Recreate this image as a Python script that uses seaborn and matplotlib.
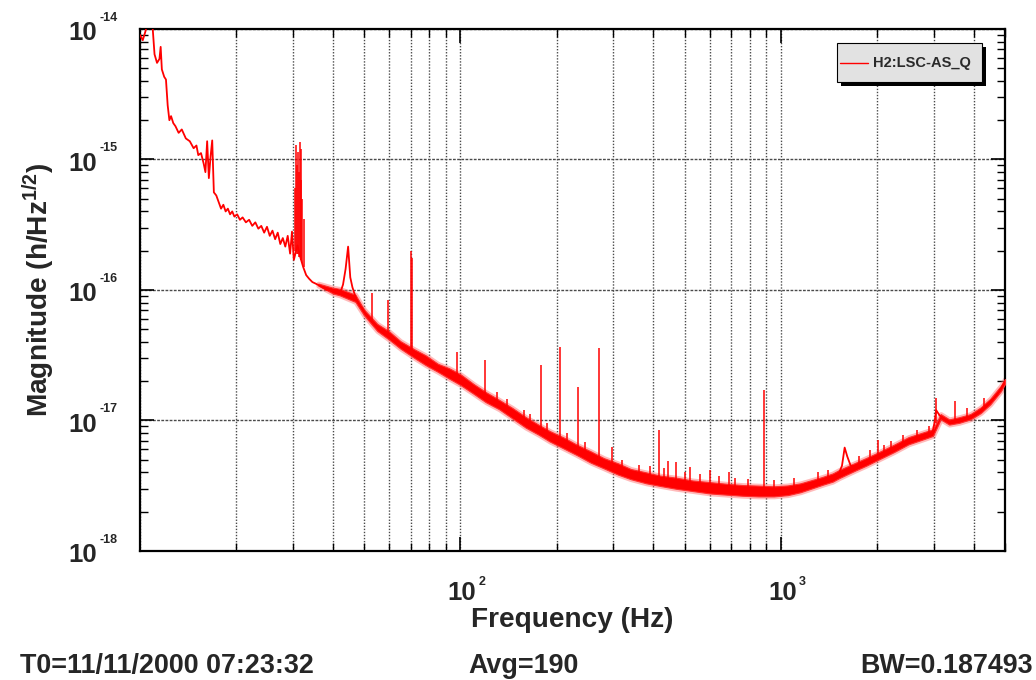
import matplotlib
matplotlib.use("Agg")
import matplotlib.pyplot as plt
from matplotlib.ticker import LogLocator, NullFormatter
from matplotlib.patches import Rectangle
from matplotlib.lines import Line2D
import seaborn as sns


# DATA

trace_freq = [
    10.0, 10.2, 10.4, 10.6, 10.9, 11.1, 11.3, 11.5, 11.6, 11.7,
    11.9, 12.05, 12.2, 12.35, 12.5, 12.7, 12.9, 13.2, 13.5, 13.9,
    14.3, 14.7, 15.0, 15.2, 15.5, 15.8, 16.0, 16.2, 16.4, 16.6,
    16.8, 17.0, 17.3, 17.6, 17.9, 18.2, 18.5, 18.8, 19.1, 19.4,
    19.7, 20.1, 20.5, 20.9, 21.4, 21.9, 22.4, 22.9, 23.4, 23.9,
    24.4, 24.9, 25.4, 25.9, 26.4, 26.9, 27.4, 27.9, 28.4, 28.9,
    29.4, 29.8, 30.2, 31.0, 31.6, 32.3, 33.0, 33.7, 34.5, 35.3,
    36.3, 37.3, 38.3, 39.3, 40.3, 41.3, 42.2, 43.0, 43.8, 44.6,
    45.3, 46.0, 46.8, 47.6, 48.5, 49.5, 50.5, 51.5, 52.5, 53.5,
    54.8, 56.0, 57.5, 59.0, 60.5, 62.5, 64.5, 67.0, 69.5, 72.0,
    75.0, 78.5, 82.0, 86.0, 90.0, 95.0, 100, 106, 113, 122,
    133, 143, 153, 165, 178, 190, 204, 220, 236, 253,
    272, 295, 320, 345, 375, 420, 470, 520, 580, 650,
    745, 850, 990, 1080, 1150, 1250, 1330, 1430, 1510, 1550,
    1580, 1610, 1650, 1700, 1800, 1900, 1980, 2150, 2350, 2530,
    2750, 2970, 3010, 3050, 3120, 3250, 3370, 3550, 3700, 3890,
    4050, 4200, 4350, 4500, 4700, 4850, 5000,
]

trace_mag = [
    9.0e-15, 8.2e-15, 9.6e-15, 1.2e-14, 1.2e-14, 6.4e-15, 5.5e-15, 5.9e-15, 7.3e-15, 4.9e-15,
    4.3e-15, 4.1e-15, 2.6e-15, 2.0e-15, 2.15e-15, 1.9e-15, 1.8e-15, 1.6e-15, 1.7e-15, 1.45e-15,
    1.38e-15, 1.22e-15, 1.28e-15, 1.08e-15, 1.12e-15, 9.3e-16, 8.0e-16, 1.38e-15, 7.2e-16, 1.05e-15,
    1.4e-15, 5.6e-16, 5.3e-16, 4.7e-16, 4.2e-16, 4.5e-16, 4.0e-16, 4.2e-16, 3.8e-16, 4.0e-16,
    3.65e-16, 3.8e-16, 3.45e-16, 3.6e-16, 3.3e-16, 3.45e-16, 3.1e-16, 3.3e-16, 2.95e-16, 3.1e-16,
    2.75e-16, 3.05e-16, 2.6e-16, 2.85e-16, 2.45e-16, 2.75e-16, 2.25e-16, 2.5e-16, 2.15e-16, 2.6e-16,
    1.9e-16, 2.8e-16, 1.7e-16, 2.2e-16, 1.8e-16, 1.5e-16, 1.3e-16, 1.22e-16, 1.15e-16, 1.12e-16,
    1.08e-16, 1.04e-16, 1.0e-16, 1.02e-16, 9.8e-17, 1.0e-16, 9.6e-17, 1.1e-16, 1.45e-16, 2.15e-16,
    1.25e-16, 1.05e-16, 9.2e-17, 8.2e-17, 7.6e-17, 7.2e-17, 6.6e-17, 6.2e-17, 6.0e-17, 5.6e-17,
    5.3e-17, 5.0e-17, 4.8e-17, 4.55e-17, 4.4e-17, 4.1e-17, 3.85e-17, 3.6e-17, 3.4e-17, 3.25e-17,
    3.05e-17, 2.85e-17, 2.7e-17, 2.5e-17, 2.35e-17, 2.2e-17, 2.05e-17, 1.85e-17, 1.65e-17, 1.48e-17,
    1.32e-17, 1.17e-17, 1.03e-17, 9.2e-18, 8.3e-18, 7.6e-18, 7.0e-18, 6.3e-18, 5.8e-18, 5.3e-18,
    4.85e-18, 4.45e-18, 4.1e-18, 3.85e-18, 3.65e-18, 3.45e-18, 3.3e-18, 3.15e-18, 3.05e-18, 2.98e-18,
    2.92e-18, 2.88e-18, 2.88e-18, 2.95e-18, 3.05e-18, 3.25e-18, 3.4e-18, 3.6e-18, 3.85e-18, 4.5e-18,
    6.2e-18, 5.3e-18, 4.5e-18, 4.4e-18, 4.7e-18, 5.0e-18, 5.25e-18, 5.8e-18, 6.5e-18, 7.1e-18,
    7.6e-18, 8.1e-18, 9.5e-18, 1.2e-17, 1.1e-17, 1.0e-17, 9.7e-18, 1.0e-17, 1.03e-17, 1.07e-17,
    1.12e-17, 1.2e-17, 1.3e-17, 1.4e-17, 1.55e-17, 1.75e-17, 2.0e-17,
]

# spread of the noisy band
band_freq = [
    36, 40, 42, 47, 50, 55, 60, 65, 72, 78,
    85, 92, 100, 110, 120, 132, 145, 160, 175, 190,
    210, 230, 255, 280, 310, 340, 380, 420, 470, 530,
    600, 680, 760, 850, 950, 1050, 1150, 1250, 1350, 1450,
    1520, 1700, 1850, 2000, 2250, 2500, 2800, 2980, 3150, 3350,
    3600, 3900, 4200, 4500, 4850, 5000,
]
band_lo = [
    1.08e-16, 9.4e-17, 9.1e-17, 8.1e-17, 6.4e-17, 4.85e-17, 4.15e-17, 3.55e-17, 3.0e-17, 2.65e-17,
    2.36e-17, 2.1e-17, 1.87e-17, 1.6e-17, 1.38e-17, 1.22e-17, 1.04e-17, 8.8e-18, 7.8e-18, 6.9e-18,
    6.1e-18, 5.45e-18, 4.75e-18, 4.3e-18, 3.85e-18, 3.55e-18, 3.3e-18, 3.15e-18, 3.0e-18, 2.88e-18,
    2.76e-18, 2.7e-18, 2.65e-18, 2.62e-18, 2.62e-18, 2.68e-18, 2.82e-18, 3.02e-18, 3.22e-18, 3.4e-18,
    3.62e-18, 4.12e-18, 4.52e-18, 4.97e-18, 5.72e-18, 6.57e-18, 7.22e-18, 7.62e-18, 1.02e-17, 9.3e-18,
    9.6e-18, 1.02e-17, 1.14e-17, 1.33e-17, 1.67e-17, 1.9e-17,
]
band_hi = [
    1.12e-16, 1.04e-16, 1.02e-16, 9.2e-17, 7.1e-17, 5.5e-17, 4.8e-17, 4.05e-17, 3.5e-17, 3.15e-17,
    2.72e-17, 2.52e-17, 2.26e-17, 1.9e-17, 1.65e-17, 1.44e-17, 1.25e-17, 1.06e-17, 9.3e-18, 8.3e-18,
    7.4e-18, 6.55e-18, 5.8e-18, 5.15e-18, 4.7e-18, 4.25e-18, 4.0e-18, 3.78e-18, 3.65e-18, 3.47e-18,
    3.37e-18, 3.27e-18, 3.2e-18, 3.17e-18, 3.13e-18, 3.18e-18, 3.3e-18, 3.5e-18, 3.7e-18, 3.93e-18,
    4.18e-18, 4.72e-18, 5.18e-18, 5.66e-18, 6.52e-18, 7.46e-18, 8.16e-18, 8.56e-18, 1.12e-17, 1.02e-17,
    1.06e-17, 1.12e-17, 1.26e-17, 1.47e-17, 1.84e-17, 2.08e-17,
]

# narrow lines
spike_freq = [
    30.5, 30.7, 30.9, 31.1, 31.3, 31.5, 31.7, 31.9, 32.1, 32.4,
    53.1, 59.6, 70.0, 70.6, 97.3, 119, 178, 204, 233, 270,
    296, 417, 445, 470, 520, 600, 690, 883, 2010, 2200, 3040, 3500,
    130, 140, 158, 165, 186, 215, 245, 320, 360, 390,
    430, 500, 560, 640, 720, 790, 950, 1100, 1300, 1400,
    1750, 1900, 2100, 2400, 2650, 2900, 3800, 4300,
]
spike_base = [
    2.0e-16, 2.0e-16, 1.9e-16, 1.9e-16, 1.8e-16, 1.8e-16, 1.7e-16, 1.7e-16, 1.6e-16, 1.5e-16,
    5.8e-17, 4.5e-17, 3.4e-17, 3.4e-17, 2.15e-17, 1.5e-17, 8.3e-18, 7.0e-18, 5.9e-18, 4.9e-18,
    4.45e-18, 3.45e-18, 3.4e-18, 3.3e-18, 3.15e-18, 3.05e-18, 2.95e-18, 2.88e-18, 5.3e-18, 6.0e-18,
    9.5e-18, 1.0e-17,
    1.36e-17, 1.2e-17, 9.9e-18, 9.2e-18, 7.8e-18, 6.5e-18, 5.5e-18, 4.1e-18, 3.75e-18, 3.6e-18,
    3.4e-18, 3.2e-18, 3.1e-18, 3.0e-18, 2.95e-18, 2.9e-18, 2.87e-18, 3.0e-18, 3.35e-18, 3.55e-18,
    4.5e-18, 5.0e-18, 5.6e-18, 6.7e-18, 7.4e-18, 7.9e-18, 1.05e-17, 1.3e-17,
]
spike_top = [
    6.0e-16, 1.3e-15, 9.0e-16, 1.15e-15, 8.0e-16, 1.35e-15, 7.0e-16, 1.2e-15, 5.0e-16, 3.5e-16,
    9.5e-17, 8.4e-17, 2.0e-16, 1.75e-16, 3.35e-17, 2.9e-17, 2.66e-17, 3.66e-17, 1.81e-17, 3.6e-17,
    6.3e-18, 8.5e-18, 4.9e-18, 4.8e-18, 4.4e-18, 4.2e-18, 4.0e-18, 1.71e-17, 7.1e-18, 7.0e-18,
    1.5e-17, 1.4e-17,
    1.65e-17, 1.45e-17, 1.2e-17, 1.12e-17, 9.6e-18, 8.0e-18, 6.9e-18, 5.0e-18, 4.6e-18, 4.5e-18,
    4.3e-18, 4.0e-18, 3.9e-18, 3.75e-18, 3.6e-18, 3.55e-18, 3.5e-18, 3.6e-18, 4.0e-18, 4.2e-18,
    5.3e-18, 5.9e-18, 6.5e-18, 7.8e-18, 8.5e-18, 9.0e-18, 1.25e-17, 1.5e-17,
]

y_decades = [1e-14, 1e-15, 1e-16, 1e-17, 1e-18]
y_exponents = ["-14", "-15", "-16", "-17", "-18"]
x_decades = [100, 1000]
x_exponents = ["2", "3"]

channel = "H2:LSC-AS_Q"
footer_t0 = "T0=11/11/2000 07:23:32"
footer_avg = "Avg=190"
footer_bw = "BW=0.187493"


# STYLE

sns.set_theme(style="ticks")

plt.rcParams["font.family"] = ["Liberation Sans", "DejaVu Sans"]
plt.rcParams["font.weight"] = "bold"
plt.rcParams["mathtext.fontset"] = "custom"
plt.rcParams["mathtext.rm"] = "Liberation Sans:bold"
plt.rcParams["mathtext.it"] = "Liberation Sans:bold"
plt.rcParams["mathtext.bf"] = "Liberation Sans:bold"

RED = "#ff0000"
GRID = "#4a4a4a"
BIG = 18.5
TITLE = 20.2
FOOT = 19.4


def fx(px):
    return px / 1036


def fy(py):
    return 1 - py / 680


fig = plt.figure(figsize=(10.36, 6.8), dpi=100)
fig.patch.set_facecolor("white")

ax = fig.add_axes([0.13514, 0.18971, 0.83494, 0.76765])
ax.set_facecolor("white")

ax.set_xscale("log")
ax.set_yscale("log")


# CURVE

# soft halo around the noise band (jpeg-like fuzz)
ax.fill_between(
    band_freq,
    band_lo,
    band_hi,
    color="#ff6a6a",
    alpha=0.45,
    linewidth=3.5,
    zorder=2
)

ax.fill_between(
    band_freq,
    band_lo,
    band_hi,
    color=RED,
    linewidth=0.8,
    edgecolor="#ff3030",
    zorder=3
)

sns.lineplot(
    x=trace_freq,
    y=trace_mag,
    ax=ax,
    color=RED,
    linewidth=1.3,
    sort=False,
    estimator=None,
    zorder=4
)

ax.vlines(
    spike_freq,
    spike_base,
    spike_top,
    color=RED,
    linewidth=1.1,
    zorder=4
)

ax.set_xlim(10, 5000)
ax.set_ylim(1e-18, 1e-14)


# AXES / GRID

ax.xaxis.set_major_locator(LogLocator(base=10))
ax.xaxis.set_minor_locator(LogLocator(base=10, subs=range(2, 10)))
ax.yaxis.set_major_locator(LogLocator(base=10))
ax.yaxis.set_minor_locator(LogLocator(base=10, subs=range(2, 10), numticks=20))

ax.xaxis.set_major_formatter(NullFormatter())
ax.xaxis.set_minor_formatter(NullFormatter())
ax.yaxis.set_major_formatter(NullFormatter())
ax.yaxis.set_minor_formatter(NullFormatter())

ax.grid(
    which="both",
    axis="x",
    color=GRID,
    linestyle=(0, (1, 1.2)),
    linewidth=1.0,
    zorder=1
)

ax.grid(
    which="major",
    axis="y",
    color=GRID,
    linestyle=(0, (2, 1)),
    linewidth=1.0,
    zorder=1
)

ax.tick_params(
    which="major",
    direction="in",
    length=10,
    width=1.2,
    top=True,
    right=True,
    color="black"
)

ax.tick_params(
    which="minor",
    direction="in",
    length=6,
    width=1.0,
    top=True,
    right=True,
    color="black"
)

for side in ax.spines.values():
    side.set_linewidth(1.6)
    side.set_color("black")


# TICK LABELS (ROOT style 10^n)

for val, ex in zip(y_decades, y_exponents):

    ax.annotate(
        "10",
        xy=(0, val),
        xycoords=("axes fraction", "data"),
        xytext=(-31, -3),
        textcoords="offset points",
        ha="right",
        va="center",
        fontsize=BIG,
        fontweight="bold"
    )

    ax.annotate(
        ex,
        xy=(0, val),
        xycoords=("axes fraction", "data"),
        xytext=(-29, 8),
        textcoords="offset points",
        ha="left",
        va="center",
        fontsize=9,
        fontweight="bold"
    )

for val, ex in zip(x_decades, x_exponents):

    ax.annotate(
        "10",
        xy=(val, 0),
        xycoords=("data", "axes fraction"),
        xytext=(1, -30),
        textcoords="offset points",
        ha="center",
        va="center",
        fontsize=BIG,
        fontweight="bold"
    )

    ax.annotate(
        ex,
        xy=(val, 0),
        xycoords=("data", "axes fraction"),
        xytext=(13, -22),
        textcoords="offset points",
        ha="left",
        va="center",
        fontsize=9,
        fontweight="bold"
    )


# TITLES

ax.set_xlabel("Frequency (Hz)", fontsize=TITLE, fontweight="bold")
ax.xaxis.set_label_coords(0.5, -0.132)
ax.xaxis.label.set_va("center")

ax.set_ylabel(r"Magnitude (h/Hz$^{1/2}$)", fontsize=TITLE, fontweight="bold")
ax.yaxis.set_label_coords(-0.117, 0.5)
ax.yaxis.label.set_va("center")


# LEGEND (ROOT TLegend look: grey box with black drop shadow)

fig.patches.append(
    Rectangle(
        (fx(841), fy(86)),
        fx(982) - fx(837),
        fy(43) - fy(82),
        transform=fig.transFigure,
        facecolor="black",
        edgecolor="none",
        zorder=10
    )
)

fig.patches.append(
    Rectangle(
        (fx(837), fy(82)),
        fx(982) - fx(837),
        fy(43) - fy(82),
        transform=fig.transFigure,
        facecolor="#e2e2e2",
        edgecolor="black",
        linewidth=0.8,
        zorder=11
    )
)

fig.lines.append(
    Line2D(
        [fx(840), fx(868)],
        [fy(63), fy(63)],
        transform=fig.transFigure,
        color=RED,
        linewidth=1.0,
        zorder=12
    )
)

fig.text(
    fx(873),
    fy(63),
    channel,
    ha="left",
    va="center",
    fontsize=10.5,
    fontweight="bold",
    color="#2a2a2a",
    zorder=12
)


# FOOTER

fig.text(fx(20), fy(666), footer_t0, ha="left", va="center", fontsize=FOOT, fontweight="bold")
fig.text(fx(468), fy(666), footer_avg, ha="left", va="center", fontsize=FOOT, fontweight="bold")
fig.text(fx(1033), fy(666), footer_bw, ha="right", va="center", fontsize=FOOT, fontweight="bold")


fig.savefig("out.png", dpi=100, facecolor="white")
